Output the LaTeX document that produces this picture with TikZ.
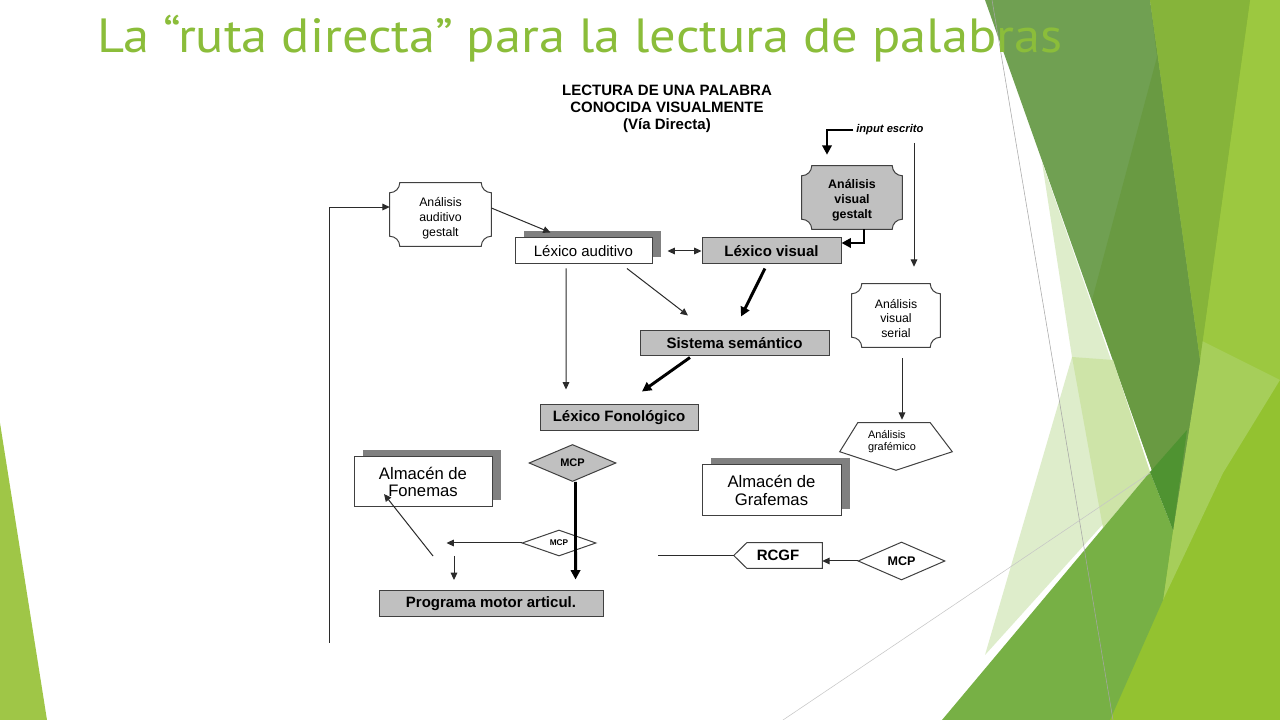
\documentclass[tikz,border=0pt]{standalone}
\usepackage{fontspec}
\setmainfont{Liberation Sans}
\newfontfamily\arialf{Liberation Sans}
\newfontfamily\titlef{PT Sans}
\usetikzlibrary{arrows.meta,shapes.geometric,shadows,calc}
\pgfdeclarelayer{back}
\pgfdeclarelayer{background}
\pgfsetlayers{back,background,main}
\definecolor{titlegreen}{HTML}{8BBD3A}
\definecolor{boxgray}{HTML}{C0C0C0}
\definecolor{shadowgray}{HTML}{808080}
\definecolor{bordc}{HTML}{404040}
\definecolor{linec}{HTML}{2B2B2B}
\definecolor{gLeft}{HTML}{9FC647}
\definecolor{gBase}{HTML}{93C230}
\definecolor{gTopR}{HTML}{9CC840}
\definecolor{gLight}{HTML}{A6CE5A}
\definecolor{gDark}{HTML}{70A052}
\definecolor{gDarker}{HTML}{699A42}
\definecolor{gDeep}{HTML}{4F9331}
\definecolor{gOlive}{HTML}{86B43A}
\definecolor{gPale}{HTML}{DEEDCB}
\definecolor{gPaleB}{HTML}{CEE4A8}
\definecolor{gMed}{HTML}{77B045}
\newcommand\plaqrad{7.5pt}
\newcommand\plaq[2]{\draw[draw=bordc, line width=0.75pt, fill=#2]
  ([xshift=\plaqrad]#1.north west) -- ([xshift=-\plaqrad]#1.north east)
  arc[start angle=180,end angle=270,radius=\plaqrad]
  -- ([yshift=\plaqrad]#1.south east)
  arc[start angle=90,end angle=180,radius=\plaqrad]
  -- ([xshift=\plaqrad]#1.south west)
  arc[start angle=0,end angle=90,radius=\plaqrad]
  -- ([yshift=-\plaqrad]#1.north west)
  arc[start angle=270,end angle=360,radius=\plaqrad] -- cycle;}
\tikzset{
  fbold/.style={font=\arialf\bfseries\fontsize{11.25}{13}\selectfont},
  freg/.style={font=\arialf\fontsize{11.25}{13}\selectfont},
  gbox/.style={draw=bordc, fill=boxgray, line width=0.75pt, inner sep=0pt, fbold, text=black},
  wbox/.style={draw=bordc, fill=white, line width=0.75pt, inner sep=0pt, align=center, text=black,
    font=\arialf\fontsize{12.5}{13}\selectfont,
    drop shadow={shadow xshift=6.5pt, shadow yshift=5.5pt, fill=shadowgray, opacity=1}},
  plq/.style={draw=none, inner sep=0pt},
  plqtxt/.style={inner sep=0pt, align=center, text=black},
  dia/.style={diamond, draw=bordc, line width=0.75pt, inner sep=0pt, text=black},
  shapeline/.style={draw=bordc, line width=0.75pt},
  conn/.style={draw=linec, line width=0.75pt, -{Triangle[length=5.5pt,width=5pt]}},
  heavy/.style={draw=black, line width=2.2pt, -{Triangle[length=7pt,width=7pt]}}
}
\begin{document}
\begin{tikzpicture}[x=0.75pt,y=0.75pt]
\useasboundingbox (0,0) rectangle (1280,720);
\begin{pgfonlayer}{back}
\fill[white] (0,0) rectangle (1280,720);
\fill[gLeft] (0,297) -- (47,0) -- (0,0) -- cycle;
% right side facets (y up = 720 - y)
\fill[gBase] (1150,720) -- (1280,720) -- (1280,0) -- (1090,0) -- (1173,190) -- (1200,360) -- cycle;
\fill[gTopR] (1250,720) -- (1280,720) -- (1280,340) -- (1202,375) -- cycle;
\fill[gLight] (1200,380) -- (1280,340) -- (1223,247) -- (1163,120) -- (1173,190) -- cycle;
\fill[gDark] (985,720) -- (1150,720) -- (1200,360) -- (1173,190) -- cycle;
\fill[gDarker] (1150,720) -- (1200,360) -- (1173,190) -- (1092,420) -- (1157,663) -- cycle;
\fill[gOlive] (1150,720) -- (1250,720) -- (1200,360) -- cycle;
\fill[gPale] (1042,558) -- (1072,363) -- (985,65) -- (1150,248) -- cycle;
\fill[gPaleB] (1072,363) -- (1113,360) -- (1150,248) -- (1103,192) -- cycle;
\fill[gMed] (942,0) -- (1150,248) -- (1173,190) -- (1163,120) -- (1110,0) -- cycle;
\fill[gDeep] (1150,248) -- (1187,290) -- (1173,190) -- cycle;
\draw[gray!70, line width=0.4pt] (992,720) -- (1113,0);
\draw[gray!45, line width=0.4pt] (783,0) -- (1150,247);
\end{pgfonlayer}

% title and heading
\node[anchor=base west, inner sep=0pt, text=titlegreen, font=\titlef\fontsize{36}{40}\selectfont] (title) at (97,667) {\scalebox{1.093}[1]{La “ruta directa” para la lectura de palabras}};
\node[align=center, inner sep=0pt, font=\arialf\bfseries\fontsize{11.25}{12.75}\selectfont] (head) at (667,611) {LECTURA DE UNA PALABRA\\CONOCIDA VISUALMENTE\\(Vía Directa)};
\node[anchor=west, inner sep=0pt, font=\arialf\bfseries\itshape\fontsize{8.4}{10}\selectfont] (inp) at (856,590) {input escrito};

% nodes
\node[plq, minimum width=75.75pt, minimum height=47.25pt] (aag) at (440.5,505.5) {};
\node[plqtxt, font=\arialf\fontsize{9.25}{11.25}\selectfont] (aagtxt) at ([yshift=-3pt]aag.center) {Análisis\\auditivo\\gestalt};
\node[wbox, freg, minimum width=102.75pt, minimum height=19.5pt, drop shadow={shadow xshift=6.75pt, shadow yshift=5.25pt, fill=shadowgray, opacity=1}] (lexa) at (583.5,469) {Léxico auditivo};
\node[gbox, minimum width=104.25pt, minimum height=19.5pt] (lexv) at (771.5,469) {Léxico visual};
\node[plq, minimum width=75pt, minimum height=47.25pt] (avg) at (852,522.5) {};
\node[plqtxt, font=\arialf\bfseries\fontsize{9.3}{11.25}\selectfont] (avgtxt) at ([yshift=-2pt]avg.center) {Análisis\\visual\\gestalt};
\node[plq, minimum width=66pt, minimum height=47.25pt] (avs) at (896,404.5) {};
\node[plqtxt, font=\arialf\fontsize{9.2}{10.8}\selectfont] (avstxt) at ([yshift=-2.2pt]avs.center) {Análisis\\visual\\serial};
\node[gbox, minimum width=141.75pt, minimum height=18.75pt] (sem) at (734.5,376.5) {Sistema semántico};
\node[gbox, minimum width=118.5pt, minimum height=19.5pt] (fon) at (619,302) {Léxico Fonológico};
\node[dia, fill=boxgray, aspect=2.35, minimum width=65.25pt, minimum height=27.75pt, font=\arialf\bfseries\fontsize{8.25}{9}\selectfont] (mcpa) at (572.5,257) {MCP};
\node[dia, fill=white, aspect=2.85, minimum width=55.5pt, minimum height=19.5pt, font=\arialf\bfseries\fontsize{6.2}{7}\selectfont] (mcpb) at (559,177) {MCP};
\node[wbox, minimum width=103.5pt, minimum height=37.5pt] (afon) at (423,238) {Almacén de\\Fonemas};
\node[gbox, minimum width=168pt, minimum height=19.5pt] (prog) at (491,116) {Programa motor articul.};
\node[wbox, minimum width=104.25pt, minimum height=38.25pt] (agraf) at (771.5,229.5) {Almacén de\\Grafemas};
\node[draw=none, inner sep=0pt, minimum width=84pt, minimum height=35.25pt] (gra) at (896,273.5) {};
\node[align=left, inner sep=0pt, font=\arialf\fontsize{8.2}{9}\selectfont] (gratxt) at (892,278) {Análisis\\grafémico};
\node[draw=none, inner sep=0pt, minimum width=66pt, minimum height=18.75pt, fbold] (rcgf) at (778,164.5) {RCGF};
\node[dia, fill=white, aspect=2.3, minimum width=65.25pt, minimum height=28.5pt, font=\arialf\bfseries\fontsize{9.4}{10}\selectfont] (mcpc) at (901.5,159) {MCP};

% custom outlines
\begin{pgfonlayer}{background}
\plaq{aag}{white}
\plaq{avg}{boxgray}
\plaq{avs}{white}
\draw[shapeline, fill=white] ([xshift=13.5pt]gra.north west) -- ([xshift=-16.5pt]gra.north east) -- ([yshift=-21.75pt]gra.north east) -- (gra.south) -- ([yshift=-21.75pt]gra.north west) -- cycle;
\draw[shapeline, fill=white] (rcgf.west) -- ([xshift=9.75pt]rcgf.north west) -- (rcgf.north east) -- (rcgf.south east) -- ([xshift=9.75pt]rcgf.south west) -- cycle;
\end{pgfonlayer}

% connectors
\coordinate (loopbot) at (329,77);
\draw[conn] (loopbot) |- ([yshift=5.6pt]aag.west);
\draw[conn] ([yshift=4.9pt]aag.east) -- ([xshift=27pt,yshift=3.75pt]lexa.north west);
\draw[conn, {Triangle[length=5.5pt,width=5pt]}-{Triangle[length=5.5pt,width=5pt]}] ([xshift=11.25pt]lexa.east) -- (lexv.west);
\draw[heavy] ([xshift=9pt]avg.south) |- ([yshift=6pt]lexv.east);
\draw[heavy] ([xshift=-2pt]inp.west) -| ([xshift=-18.75pt,yshift=8.25pt]avg.north);
\coordinate (inpdown) at (914,577);
\draw[conn] (inpdown) -- ([xshift=13.5pt,yshift=12.75pt]avs.north);
\draw[heavy] ([xshift=-4.9pt,yshift=-3pt]lexv.south) -- ([xshift=4.9pt,yshift=10.5pt]sem.north);
\draw[conn] ([xshift=32.6pt,yshift=-3pt]lexa.south) -- ([xshift=-34.9pt,yshift=11.25pt]sem.north);
\draw[conn] ([xshift=-13.1pt,yshift=-3pt]lexa.south) -- ([xshift=-39.75pt,yshift=11.25pt]fon.north);
\draw[heavy] ([xshift=-33.4pt,yshift=-0.75pt]sem.south) -- ([xshift=17.25pt,yshift=9.75pt]fon.north);
\draw[heavy] ([xshift=2.25pt]mcpa.south) -- ([xshift=63.4pt,yshift=8.25pt]prog.north);
\draw[conn] (mcpb.west) -- ++(-75,0) coordinate (mcpbend);
\coordinate (sa) at (454,164);
\draw[conn] (sa) -- ++(0,-24);
\coordinate (sb) at (433,164);
\draw[conn] (sb) -- ([xshift=-29.25pt,yshift=-9pt]afon.center);
\draw[conn] ([xshift=4.5pt,yshift=-8.25pt]avs.south) -- ([xshift=4.5pt,yshift=2.25pt]gra.north);
\draw[conn] (mcpc.west) -- (mcpc.west -| rcgf.east);
\draw[draw=linec, line width=0.75pt] (rcgf.west) -- ++(-76,0) coordinate (rcgfend);
\end{tikzpicture}
\end{document}
